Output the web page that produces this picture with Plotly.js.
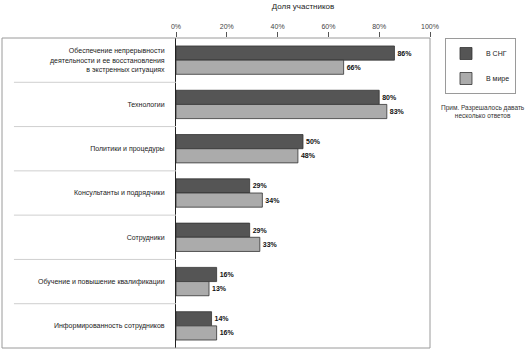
<!DOCTYPE html>
<html>
<head>
<meta charset="utf-8">
<script src="https://cdn.plot.ly/plotly-3.0.1.min.js"></script>
<style>html,body{margin:0;padding:0;background:#fff;}#chart{width:530px;height:351px;}</style>
</head>
<body>
<div id="chart"></div>
<script>
const categories = [
  "Обеспечение непрерывности<br>деятельности и ее восстановления<br>в экстренных ситуациях",
  "Технологии",
  "Политики и процедуры",
  "Консультанты и подрядчики",
  "Сотрудники",
  "Обучение и повышение квалификации",
  "Информированность сотрудников"
];
const seriesNames = ["В СНГ", "В мире"];
const cisValues = [86, 80, 50, 29, 29, 16, 14];
const worldValues = [66, 83, 48, 34, 33, 13, 16];
const xTickValues = [0, 20, 40, 60, 80, 100];
const xTickLabels = ["0%", "20%", "40%", "60%", "80%", "100%"];

const FONT = "'Liberation Sans Narrow', 'Liberation Sans', Arial, sans-serif";

function barTrace(name, vals, color, grp) {
  return {
    type: 'bar', orientation: 'h', name: name,
    x: vals, y: categories.map((c, i) => i),
    marker: {color: color, line: {color: '#333', width: 0.8}},
    text: vals.map(v => v + '%'), textposition: 'outside',
    textfont: {family: "'Liberation Sans', Arial, sans-serif", size: 7, color: '#111', weight: 'bold'},
    cliponaxis: false, legendgroup: grp, hoverinfo: 'none'
  };
}

const data = [
  barTrace(seriesNames[0], cisValues, '#555555', 'a'),
  barTrace(seriesNames[1], worldValues, '#ababab', 'b')
];

const shapes = [];
for (let i = 0; i < categories.length - 1; i++) {
  shapes.push({type: 'line', xref: 'paper', yref: 'y', x0: -0.638, x1: 0, y0: i + 0.5, y1: i + 0.5,
    line: {color: '#cfcfcf', width: 1}});
}
shapes.push({type: 'rect', xref: 'paper', yref: 'paper', x0: -0.685, x1: 1, y0: 0, y1: 1,
  line: {color: '#9a9a9a', width: 1}});

const layout = {
  width: 530, height: 351,
  margin: {l: 176, r: 100, t: 38, b: 3},
  paper_bgcolor: '#fff', plot_bgcolor: '#fff',
  font: {family: FONT, size: 7, color: '#222'},
  barmode: 'group', bargap: 0.36, bargroupgap: 0,
  xaxis: {
    side: 'top', range: [0, 100], tickvals: xTickValues, ticktext: xTickLabels,
    showgrid: false, zeroline: false, showline: false,
    ticks: 'outside', ticklen: 5, tickcolor: '#555', tickwidth: 1,
    tickfont: {size: 7, color: '#444'},
    title: {text: 'Доля участников', font: {size: 8, color: '#222'}, standoff: 12}
  },
  yaxis: {
    range: [6.5, -0.5], tickvals: categories.map((c, i) => i), ticktext: categories,
    showgrid: false, zeroline: false, showline: true, linecolor: '#222', linewidth: 1,
    ticks: '', ticklen: 0, ticklabelstandoff: 9, tickfont: {size: 7, color: '#222'}, automargin: false
  },
  shapes: shapes,
  showlegend: true,
  legend: {
    x: 1.059, y: 1, xanchor: 'left', yanchor: 'top',
    bordercolor: '#9a9a9a', borderwidth: 1, bgcolor: '#fff',
    font: {size: 7, color: '#222'}, traceorder: 'grouped', tracegroupgap: 6,
    itemwidth: 30
  },
  annotations: [{
    xref: 'paper', yref: 'paper', x: 1.21, y: 1 - (102 - 38) / 310, yanchor: 'top', xanchor: 'center',
    text: 'Прим. Разрешалось давать<br>несколько ответов', showarrow: false,
    font: {size: 6.5, color: '#333'}
  }]
};

Plotly.newPlot('chart', data, layout, {displayModeBar: false, staticPlot: true});
</script>
</body>
</html>
